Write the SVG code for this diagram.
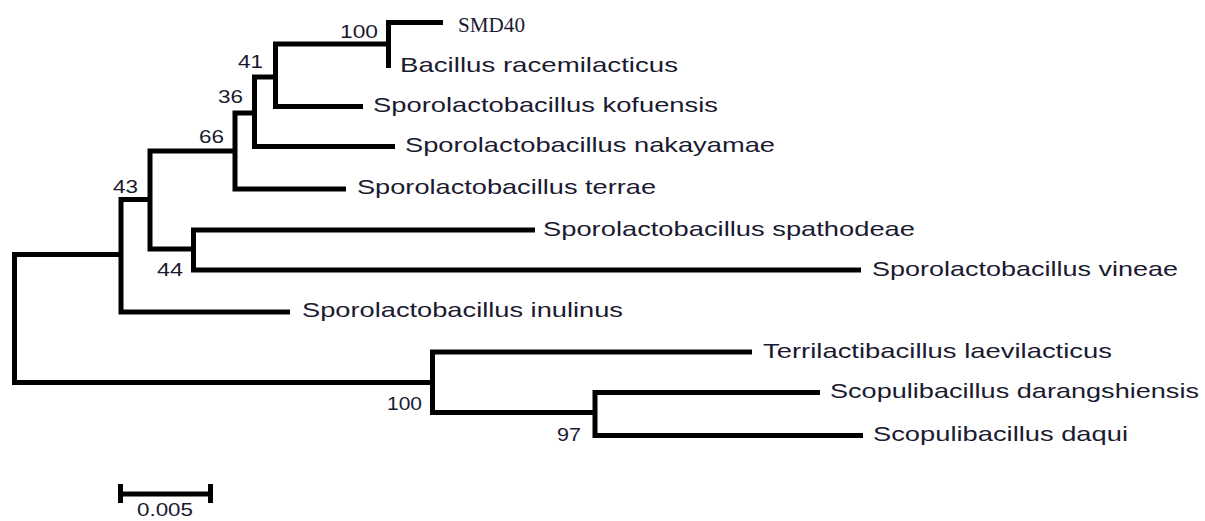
<svg xmlns="http://www.w3.org/2000/svg" width="1205" height="521" viewBox="0 0 1205 521">
  <style>
    .br { fill: none; stroke: #000; stroke-width: 5; stroke-linejoin: miter; stroke-linecap: butt; }
    .sp { font-family: "Liberation Sans", Arial, sans-serif; font-size: 21px; fill: #1a1a30; }
    .bs { font-family: "Liberation Sans", Arial, sans-serif; font-size: 18px; fill: #1a1a30; }
    .sm { font-family: "Liberation Serif", "Times New Roman", serif; font-size: 22px; fill: #1a1a30; }
  </style>
  <rect width="1205" height="521" fill="#fff"/>
  <g id="connectors">
    <path class="br" d="M 121 254.5 H 14.5 V 382.5 H 432.5"/>
    <path class="br" d="M 150 199.5 H 121 V 312 H 290"/>
    <path class="br" d="M 235 151 H 150 V 249 H 193.5"/>
    <path class="br" d="M 254.5 113 H 235 V 189 H 346"/>
    <path class="br" d="M 275.5 77 H 254.5 V 146.5 H 395"/>
    <path class="br" d="M 388.5 44 H 275.5 V 106.5 H 363"/>
    <path class="br" d="M 443 22.5 H 388.5 V 68"/>
    <path class="br" d="M 535 230 H 193.5 V 270 H 861"/>
    <path class="br" d="M 752 352 H 432.5 V 412.5 H 595"/>
    <path class="br" d="M 820 392.5 H 595 V 435.5 H 863"/>
  </g>
  <g id="bootstrap">
    <text class="bs" x="340" y="38" textLength="38" lengthAdjust="spacingAndGlyphs">100</text>
    <text class="bs" x="238" y="68" textLength="25" lengthAdjust="spacingAndGlyphs">41</text>
    <text class="bs" x="218" y="103" textLength="25" lengthAdjust="spacingAndGlyphs">36</text>
    <text class="bs" x="199" y="143" textLength="25" lengthAdjust="spacingAndGlyphs">66</text>
    <text class="bs" x="113" y="193" textLength="25" lengthAdjust="spacingAndGlyphs">43</text>
    <text class="bs" x="157" y="276" textLength="26" lengthAdjust="spacingAndGlyphs">44</text>
    <text class="bs" x="387" y="410" textLength="35" lengthAdjust="spacingAndGlyphs">100</text>
    <text class="bs" x="557" y="441" textLength="24" lengthAdjust="spacingAndGlyphs">97</text>
  </g>
  <g id="taxon-smd40"><text class="sm" x="458" y="32" textLength="67" lengthAdjust="spacingAndGlyphs">SMD40</text></g>
  <g id="taxon-racemilacticus"><text class="sp" x="400" y="72" textLength="278" lengthAdjust="spacingAndGlyphs">Bacillus racemilacticus</text></g>
  <g id="taxon-kofuensis"><text class="sp" x="373" y="112" textLength="345" lengthAdjust="spacingAndGlyphs">Sporolactobacillus kofuensis</text></g>
  <g id="taxon-nakayamae"><text class="sp" x="405" y="152" textLength="370" lengthAdjust="spacingAndGlyphs">Sporolactobacillus nakayamae</text></g>
  <g id="taxon-terrae"><text class="sp" x="357" y="194" textLength="299" lengthAdjust="spacingAndGlyphs">Sporolactobacillus terrae</text></g>
  <g id="taxon-spathodeae"><text class="sp" x="543" y="236" textLength="372" lengthAdjust="spacingAndGlyphs">Sporolactobacillus spathodeae</text></g>
  <g id="taxon-vineae"><text class="sp" x="872" y="276" textLength="306" lengthAdjust="spacingAndGlyphs">Sporolactobacillus vineae</text></g>
  <g id="taxon-inulinus"><text class="sp" x="302" y="317" textLength="321" lengthAdjust="spacingAndGlyphs">Sporolactobacillus inulinus</text></g>
  <g id="taxon-laevilacticus"><text class="sp" x="763" y="358" textLength="349" lengthAdjust="spacingAndGlyphs">Terrilactibacillus laevilacticus</text></g>
  <g id="taxon-darangshiensis"><text class="sp" x="830" y="398" textLength="369" lengthAdjust="spacingAndGlyphs">Scopulibacillus darangshiensis</text></g>
  <g id="taxon-daqui"><text class="sp" x="873" y="441" textLength="255" lengthAdjust="spacingAndGlyphs">Scopulibacillus daqui</text></g>
  <g id="scale-bar">
    <path class="br" d="M 120.5 494 H 210.5 M 120.5 484 V 503 M 210.5 484 V 503"/>
    <text class="bs" x="137" y="516" textLength="56" lengthAdjust="spacingAndGlyphs">0.005</text>
  </g>
</svg>
